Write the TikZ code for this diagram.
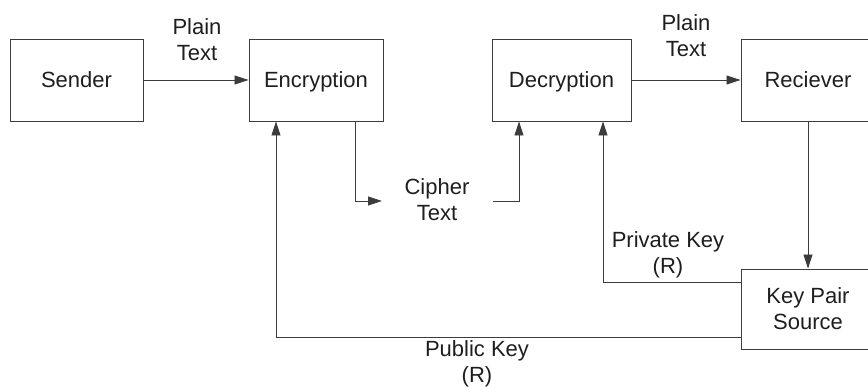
\documentclass[tikz,border=0pt]{standalone}
\usepackage{fontspec}
\setmainfont{Liberation Sans}
\usetikzlibrary{arrows.meta}
\definecolor{ink}{HTML}{1E1E1E}
\definecolor{wire}{HTML}{3C3C3C}
\begin{document}
\begin{tikzpicture}[x=1pt,y=-1pt,
  every node/.style={text=ink,font=\fontsize{22}{26}\selectfont,align=center,inner sep=0pt},
  blockbox/.style={draw=wire,line width=0.9pt,minimum height=82pt},
  oneline/.style={text height=16pt,text depth=0pt},
  conn/.style={draw=wire,line width=0.8pt},
  arr/.style={conn,-{Triangle[length=14pt,width=9pt]}}]
\useasboundingbox (0,0) rectangle (868,387);
\node[blockbox,oneline,minimum width=133pt] (sender) at (76.5,80) {Sender};
\node[blockbox,oneline,minimum width=134pt] (enc) at (316,80) {Encryption};
\node[blockbox,oneline,minimum width=139pt] (dec) at (561.5,80) {Decryption};
\node[blockbox,oneline,minimum width=134pt] (rec) at (808,80) {Reciever};
\node[blockbox,minimum width=134pt,minimum height=80pt] (key) at (808,309) {Key Pair\\Source};
\node (pt1) at (197,40) {Plain\\Text};
\node (pt2) at (686,36) {Plain\\Text};
\node (ct) at (437,200) {Cipher\\Text};
\node (pk) at (668,255) {Private Key\\(R)};
\node (pub) at (477,364) {Public Key\\(R)};
\coordinate (ca) at (382,201);
\coordinate (cb) at (493,201);
\draw[arr] (sender.east) -- (enc.west);
\draw[arr] (dec.east) -- (rec.west);
\draw[arr] ([xshift=39pt]enc.south) |- (ca);
\draw[arr] (cb) -| ([xshift=-42.5pt]dec.south);
\draw[arr] (rec.south) -- (key.north);
\draw[arr] ([yshift=-14pt]key.north west) -| ([xshift=41.5pt]dec.south);
\draw[arr] ([yshift=12pt]key.south west) -| ([xshift=-40pt]enc.south);
\end{tikzpicture}
\end{document}
